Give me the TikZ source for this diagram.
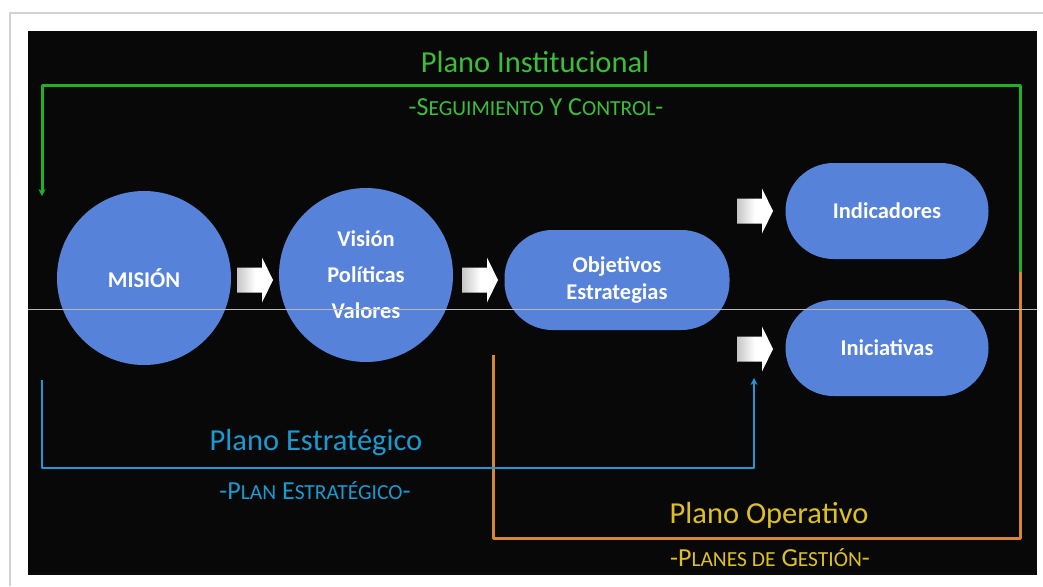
\documentclass[tikz,border=0pt]{standalone}
\usepackage{fontspec}
\setmainfont{Carlito}
\usetikzlibrary{arrows.meta}
\definecolor{nodeblue}{RGB}{86,130,217}
\definecolor{lgreen}{RGB}{35,175,35}
\definecolor{tgreen}{RGB}{60,190,60}
\definecolor{lblue}{RGB}{30,150,215}
\definecolor{tblue}{RGB}{25,155,210}
\definecolor{lorange}{RGB}{215,135,50}
\definecolor{tyellow}{RGB}{222,192,35}
\tikzset{
  circnode/.style={circle, fill=nodeblue, minimum size=174pt, inner sep=0pt, text=white, font=\fontsize{22.5}{36}\selectfont\bfseries, align=center},
  pillnode/.style={rectangle, rounded corners=48pt, fill=nodeblue, inner sep=0pt, text=white, font=\fontsize{22.5}{27}\selectfont\bfseries, align=center},
  bigtitle/.style={font=\fontsize{30.5}{34}\selectfont, inner sep=0pt},
  subtitle/.style={font=\fontsize{26}{28}\selectfont, inner sep=0pt},
  planline/.style={line width=3pt, line join=round},
  barrow/.pic={\shade[left color=gray!45, right color=white, middle color=white]
     (0,-12.5) -- (25,-12.5) -- (25,-22.5) -- (36,0) -- (25,22.5) -- (25,12.5) -- (0,12.5) -- cycle;}
}
\newcommand{\smc}[1]{{\fontsize{21.5}{23}\selectfont #1}}
\begin{document}
\begin{tikzpicture}[x=1pt,y=-1pt]
\useasboundingbox (0,0) rectangle (1043,586);
\fill[white] (0,0) rectangle (1043,586);
\draw[gray!35, line width=1.5pt] (10,586) -- (10,13) -- (1043,13);
\fill[black!97] (28,31) rectangle (1037,575);

% nodes
\node[circnode] (mision) at (144,278) {MISIÓN};
\node[circnode] (vision) at (366,275) {Visión\\Políticas\\Valores};
\node[pillnode, minimum width=225pt, minimum height=100pt] (obj) at (617,280) {Objetivos\\Estrategias};
\node[pillnode, minimum width=203pt, minimum height=96pt] (ind) at (887,211) {Indicadores};
\node[pillnode, minimum width=203pt, minimum height=96pt] (ini) at (887,348) {Iniciativas};

% block arrows
\pic at (237,280) {barrow};
\pic at (462,280) {barrow};
\pic at (737,211) {barrow};
\pic at (737,349) {barrow};

% coordinates for plan lines
\coordinate (gStart) at (1020,272);
\coordinate (gTR) at (1020,85);
\coordinate (gTL) at (42,85);
\coordinate (gEnd) at (42,196);
\coordinate (oBR) at (1020,538);
\coordinate (oBL) at (493,538);
\coordinate (oEnd) at (493,355);
\coordinate (bStart) at (42,380);
\coordinate (bBL) at (42,468);
\coordinate (bBR) at (754,468);
\coordinate (bEnd) at (754,378);

\draw[planline, lgreen, -{Stealth[length=7pt,width=7pt]}] (gStart) -- (gTR) -- (gTL) -- (gEnd);
\draw[planline, lorange] (gStart) -- (oBR) -- (oBL) -- (oEnd);
\draw[planline, lblue, line width=2.5pt, -{Stealth[length=7pt,width=7pt]}] (bStart) -- (bBL) -- (bBR) -- (bEnd);

% labels
\node[bigtitle, text=tgreen] (t1) at (535,62) {Plano Institucional};
\node[subtitle, text=tgreen] (s1) at (536,107) {-S\smc{EGUIMIENTO} Y C\smc{ONTROL}-};
\node[bigtitle, text=tblue] (t2) at (316,443) {Plano Estratégico};
\node[subtitle, text=tblue] (s2) at (315,491) {-P\smc{LAN} E\smc{STRATÉGICO}-};
\node[bigtitle, text=tyellow] (t3) at (769,515) {Plano Operativo};
\node[subtitle, text=tyellow] (s3) at (770,558) {-P\smc{LANES DE} G\smc{ESTIÓN}-};

% thin horizontal line
\draw[gray!55, line width=0.8pt] (28,309) -- (1037,309);
\end{tikzpicture}
\end{document}
